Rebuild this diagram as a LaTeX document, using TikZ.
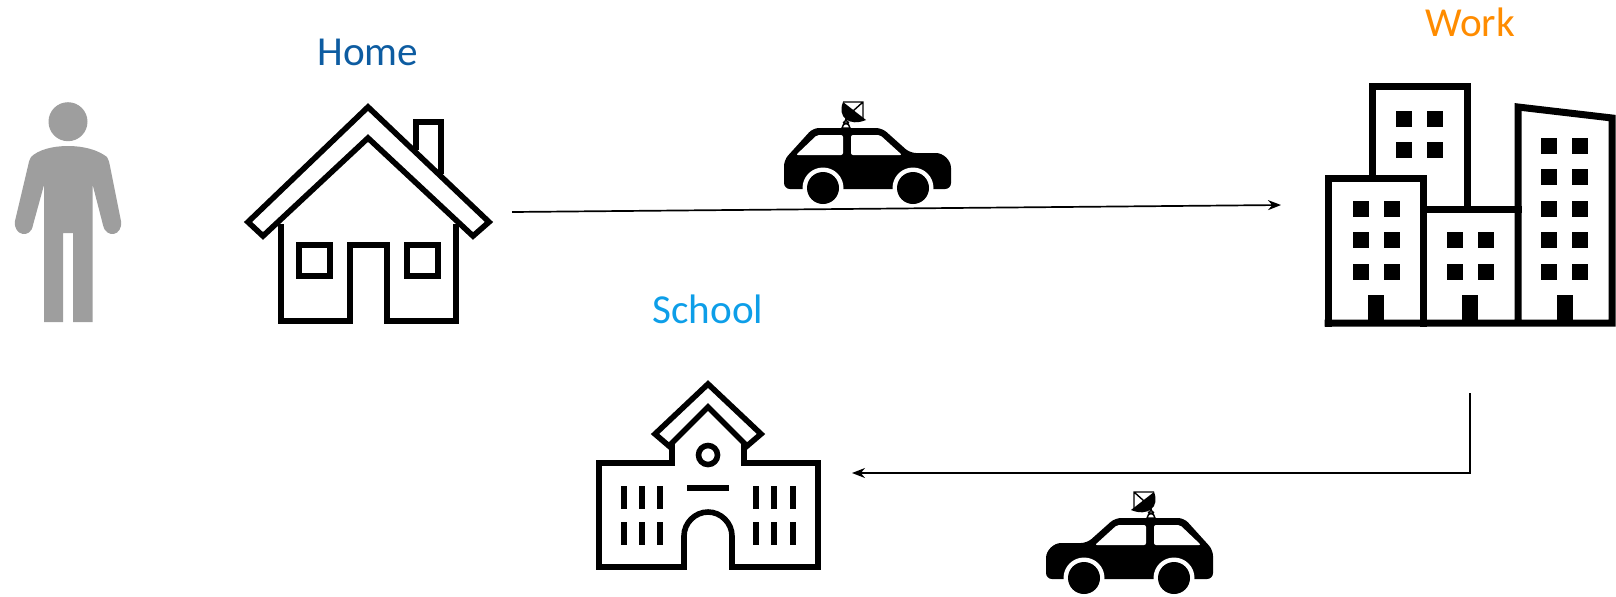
\documentclass[tikz,border=0pt]{standalone}
\usepackage{fontspec}
\setmainfont{Carlito}
\usepackage{xcolor}
\usepackage{tikz}
\usetikzlibrary{arrows.meta}
\definecolor{myhome}{rgb}{0.05, 0.36, 0.63}
\definecolor{mywork}{rgb}{1.00, 0.55, 0.00}
\definecolor{myschool}{rgb}{0.05, 0.62, 0.91}
\definecolor{mygrey}{rgb}{0.62, 0.62, 0.62}
\tikzstyle{arrow} = [line width=0.85pt,-{Stealth[length=6.5pt,width=5pt]}]
\tikzstyle{place} = [font=\fontsize{20.6}{24}\selectfont, anchor=base, inner sep=0pt]
\tikzstyle{spot} = [inner sep=0pt, outer sep=0pt]
\tikzset{
  car/.pic={
    \fill[black, rounded corners=3pt] (24,99) -- (24,70) -- (53,38) -- (122,38) -- (150,63) -- (170,63)
      .. controls (183,63) and (191,70) .. (191,84) -- (191,99) -- cycle;
    \fill[white, rounded corners=1pt] (36,65) -- (57,45) -- (83,45) -- (83,65) -- cycle;
    \fill[white, rounded corners=1pt] (91,45) -- (120,45) -- (142,65) -- (91,65) -- cycle;
    \foreach \wx in {63,153} {
      \fill[white] (\wx,98) circle[radius=20.5];
      \fill[black] (\wx,98) circle[radius=16];
    }
    % dish on the roof
    \fill[black] (83,12) .. controls (77,27) and (89,37) .. (106,30) -- cycle;
    \draw[line width=0.7pt] (83,12) -- (103,12) -- (103,30) (103,12) -- (93,21);
    \draw[line width=0.7pt] (82,38) -- (86,29) -- (90,38) -- cycle (83,35) -- (89,32) (89,35) -- (83,32);
  }
}
\begin{document}
\begin{tikzpicture}[x=0.5pt, y=-0.5pt,
    houseline/.style={line width=2.8pt, miter limit=10},
    workline/.style={line width=3.5pt, miter limit=10, line cap=rect},
    bar/.style={line width=3pt}]
    \useasboundingbox (0,0) rectangle (1616,596);
    % anchors for the connectors
    \node[spot, minimum width=144pt, minimum height=115pt] (home) at (368,213.3) {};
    \node[spot, minimum width=189pt, minimum height=190pt] (work) at (1470,203.3) {};
    \node[spot, minimum width=144pt, minimum height=100pt] (school) at (708,473) {};
    % labels
    \node[place, text=myhome] (homelabel) at (368,65) {Home};
    \node[place, text=mywork] (worklabel) at (1470,36) {Work};
    \node[place, text=myschool] (schoollabel) at (708,323) {School};
    % person
    \fill[mygrey] (68,121.7) circle[radius=19.5];
    \fill[mygrey] (68,146) .. controls (52,146) and (38,150) .. (31,157) .. controls (29,160) and (29,162) .. (28,166)
      -- (15,221) .. controls (13,236) and (31,239) .. (33,225) -- (44,185) -- (44,322) -- (63,322)
      -- (63,233) -- (73,233) -- (73,322) -- (92.7,322) -- (92.7,185) -- (103,225)
      .. controls (106,239) and (123,236) .. (121,221) -- (110,166) .. controls (109,162) and (109,160) .. (107,157)
      .. controls (98,150) and (84,146) .. (68,146) -- cycle;
    % house
    \draw[houseline] (368,107) -- (248,222) -- (263,236) -- (368,138) -- (473,236) -- (489,222) -- cycle;
    \draw[houseline] (416,150) -- (416,122) -- (441,122) -- (441,174);
    \draw[houseline] (281,224) -- (281,321) -- (350,321) -- (350,245) -- (387,245) -- (387,321) -- (456,321) -- (456,224);
    \draw[houseline] (299,245) rectangle (330,276);
    \draw[houseline] (407,245) rectangle (438,276);
    % work
    \draw[workline] (1372,178) -- (1372,86) -- (1467,86) -- (1467,209);
    \draw[workline] (1328,323) -- (1328,178) -- (1423,178) -- (1423,323);
    \draw[workline] (1423,209) -- (1518,209);
    \draw[workline] (1328,323) -- (1612,323) -- (1612,118) -- (1518,107) -- (1518,323);
    \foreach \wx/\wy in {1404/119,1435/119,1404/150,1435/150,
        1361/209,1392/209,1361/240,1392/240,1361/272,1392/272,
        1455/240,1486/240,1455/272,1486/272,
        1549/146,1580/146,1549/177,1580/177,1549/209,1580/209,1549/240,1580/240,1549/272,1580/272}
      \fill[black] (\wx-7.7,\wy-7.7) rectangle (\wx+7.7,\wy+7.7);
    \foreach \wx in {1376,1470,1565}
      \fill[black] (\wx-7.7,295) rectangle (\wx+7.7,323);
    % school
    \draw[houseline] (708,384) -- (655,434) -- (669,446) -- (708,407) -- (747,446) -- (761,434) -- cycle;
    \draw[houseline] (672,443) -- (672,463) -- (599,463) -- (599,567) -- (684,567) -- (684,536)
      .. controls (684,523) and (695,512) .. (708,512) .. controls (721,512) and (732,523) .. (732,536)
      -- (732,567) -- (818,567) -- (818,463) -- (744,463) -- (744,443);
    \draw[houseline] (708,455) circle[radius=9.5];
    \draw[bar] (687,488) -- (729,488);
    \foreach \wx in {624,642,660,756,774,793}
      \foreach \wy in {486,522}
        \draw[bar] (\wx,\wy) -- (\wx,\wy+23);
    % cars
    \pic (carone) at (760,90) {car};
    \pic[xscale=-1] (cartwo) at (1237,480) {car};
    % connectors
    \draw[arrow] (home) -- (work);
    \draw[arrow] (work.south) |- (school.east);
\end{tikzpicture}
\end{document}
